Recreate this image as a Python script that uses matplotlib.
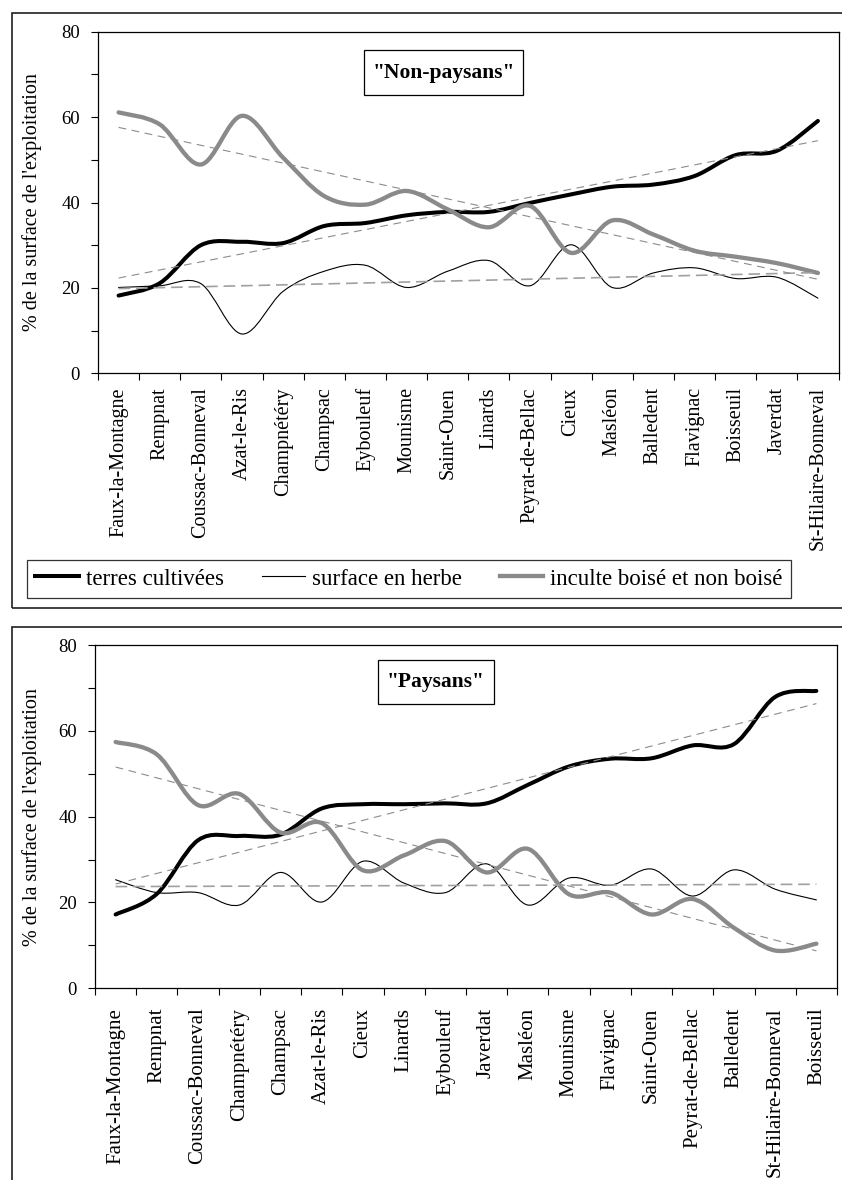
#!/usr/bin/env python3
"""
Répartition de la surface des exploitations par commune,
"Non-paysans" (haut) et "Paysans" (bas), avec droites de tendance.
"""

import numpy as np
import matplotlib
matplotlib.use("Agg")
import matplotlib.pyplot as plt
from matplotlib.path import Path
from matplotlib.patches import PathPatch, Rectangle
from matplotlib.lines import Line2D

plt.rcParams['font.family'] = ['Liberation Serif', 'DejaVu Serif']

# --- Non-paysans -----------------------------------------------------------
np_communes = ["Faux-la-Montagne", "Rempnat", "Coussac-Bonneval", "Azat-le-Ris",
               "Champnétéry", "Champsac", "Eybouleuf", "Mounisme", "Saint-Ouen",
               "Linards", "Peyrat-de-Bellac", "Cieux", "Masléon", "Balledent",
               "Flavignac", "Boisseuil", "Javerdat", "St-Hilaire-Bonneval"]
np_cultivees = [18.2, 21.1, 30.0, 30.8, 30.5, 34.5, 35.2, 37.0, 37.8,
                37.8, 39.9, 41.9, 43.7, 44.2, 46.2, 51.1, 52.1, 59.1]
np_herbe = [20.1, 20.5, 21.0, 9.2, 19.2, 23.9, 25.3, 20.1, 23.9,
            26.4, 20.5, 30.1, 20.1, 23.5, 24.7, 22.2, 22.5, 17.6]
np_inculte = [61.1, 58.3, 48.9, 60.3, 50.5, 41.5, 39.5, 42.7, 38.4,
              34.2, 39.2, 28.2, 35.8, 32.5, 28.7, 27.3, 25.8, 23.5]

# --- Paysans ---------------------------------------------------------------
p_communes = ["Faux-la-Montagne", "Rempnat", "Coussac-Bonneval", "Champnétéry",
              "Champsac", "Azat-le-Ris", "Cieux", "Linards", "Eybouleuf",
              "Javerdat", "Masléon", "Mounisme", "Flavignac", "Saint-Ouen",
              "Peyrat-de-Bellac", "Balledent", "St-Hilaire-Bonneval", "Boisseuil"]
p_cultivees = [17.2, 22.0, 34.5, 35.5, 35.8, 41.9, 42.9, 42.9, 43.1,
               43.1, 47.4, 51.7, 53.5, 53.6, 56.6, 56.9, 67.9, 69.3]
p_herbe = [25.3, 22.3, 22.3, 19.4, 27.0, 20.1, 29.6, 24.5, 22.3,
           29.0, 19.4, 25.7, 24.0, 27.8, 21.5, 27.6, 23.1, 20.6]
p_inculte = [57.4, 54.5, 42.7, 45.3, 36.3, 38.5, 27.5, 31.0, 34.3,
             27.0, 32.5, 21.9, 22.3, 17.2, 20.8, 14.1, 8.8, 10.4]

SERIES_STYLE = [
    ("terres cultivées", "black", 2.9),
    ("surface en herbe", "black", 0.8),
    ("inculte boisé et non boisé", "#8a8a8a", 3.1),
]

W, H = 842, 1180


def smooth_path(xs, ys):
    """Courbe lissée (Bézier type Catmull-Rom) passant par tous les points."""
    pts = np.column_stack([xs, ys]).astype(float)
    n = len(pts)
    verts = [pts[0]]
    codes = [Path.MOVETO]
    for i in range(n - 1):
        p0 = pts[max(i - 1, 0)]
        p1 = pts[i]
        p2 = pts[i + 1]
        p3 = pts[min(i + 2, n - 1)]
        verts += [p1 + (p2 - p0) / 6, p2 - (p3 - p1) / 6, p2]
        codes += [Path.CURVE4] * 3
    return Path(verts, codes)


def fig_rect(left, top, right, bottom):
    """Pixel box (top-left origin) -> figure fraction [l, b, w, h]."""
    return [left / W, 1 - bottom / H, (right - left) / W, (bottom - top) / H]


def draw_panel(fig, box, communes, series, title, title_box, label_size, label_pad):
    ax = fig.add_axes(fig_rect(*box))
    x = np.arange(len(communes)) + 0.5

    for values, (name, color, lw) in zip(series, SERIES_STYLE):
        ax.add_patch(PathPatch(smooth_path(x, values), fill=False, edgecolor=color,
                               lw=lw, capstyle='round', joinstyle='round', zorder=3))

    # droites de tendance linéaires
    for values, (name, color, lw) in zip(series, SERIES_STYLE):
        a, b = np.polyfit(x, values, 1)
        if lw < 1:
            ax.plot([x[0], x[-1]], [a * x[0] + b, a * x[-1] + b], color='#a0a0a0',
                    lw=1.2, linestyle=(0, (7, 3.5)), zorder=4)
        else:
            ax.plot([x[0], x[-1]], [a * x[0] + b, a * x[-1] + b], color='#8c8c8c',
                    lw=0.8, linestyle=(0, (7, 5)), zorder=4)

    ax.set_xlim(0, len(communes))
    ax.set_ylim(0, 80)
    ax.set_yticks([0, 20, 40, 60, 80])
    ax.set_yticks([10, 30, 50, 70], minor=True)
    ax.set_xticks(np.arange(len(communes) + 1))
    ax.set_xticklabels([])
    ax.set_xticks(x, minor=True)
    ax.set_xticklabels(communes, minor=True, rotation=90, va='top', ha='center',
                       fontsize=label_size)
    ax.tick_params(axis='y', which='both', direction='out', length=5, width=0.8,
                   labelsize=13.5, pad=8)
    ax.tick_params(axis='x', which='major', direction='out', length=5, width=0.8)
    ax.tick_params(axis='x', which='minor', length=0, pad=label_pad)
    for sp in ax.spines.values():
        sp.set_linewidth(0.9)

    l, t, r, b = title_box
    ax.add_patch(Rectangle((l, b), r - l, t - b, transform=ax.transAxes,
                           facecolor='white', edgecolor='black', lw=0.9, zorder=5))
    ax.text((l + r) / 2, (t + b) / 2, title, transform=ax.transAxes, ha='center',
            va='center', fontsize=15.5, fontweight='bold', zorder=6)

    top, bottom = box[1], box[3]
    fig.text(32 / W, 1 - (top + bottom) / 2 / H, "% de la surface de l'exploitation",
             rotation=90, ha='center', va='center', fontsize=14.5)
    return ax


fig = plt.figure(figsize=(W / 100, H / 100), dpi=100)

# cadres des deux graphiques
fig.add_artist(Rectangle((12 / W, 1 - 608 / H), 850 / W, 595 / H, transform=fig.transFigure,
                         fill=False, edgecolor='#202020', lw=1.2))
fig.add_artist(Rectangle((12 / W, -0.02), 850 / W, (1180 - 627) / H + 0.02,
                         transform=fig.transFigure, fill=False, edgecolor='#202020', lw=1.2))

draw_panel(fig, (98, 31.7, 838.5, 373.3), np_communes,
           [np_cultivees, np_herbe, np_inculte], '"Non-paysans"',
           (0.3592, 0.9464, 0.5739, 0.8147), 14.5, 10)
draw_panel(fig, (95, 645, 837, 988.3), p_communes,
           [p_cultivees, p_herbe, p_inculte], '"Paysans"',
           (0.3814, 0.9563, 0.5377, 0.8281), 15, 14)

handles = [Line2D([], [], color=c, lw=lw) for _, c, lw in SERIES_STYLE]
leg = fig.legend(handles, [n for n, _, _ in SERIES_STYLE], loc='center',
                 bbox_to_anchor=(409 / W, 1 - 579 / H), ncol=3, fontsize=16.5,
                 frameon=True, fancybox=False, edgecolor='black', handlelength=1.9,
                 handletextpad=0.3, columnspacing=1.65, borderpad=0.35)
leg.get_frame().set_linewidth(0.9)

fig.savefig("out.png", dpi=100)
